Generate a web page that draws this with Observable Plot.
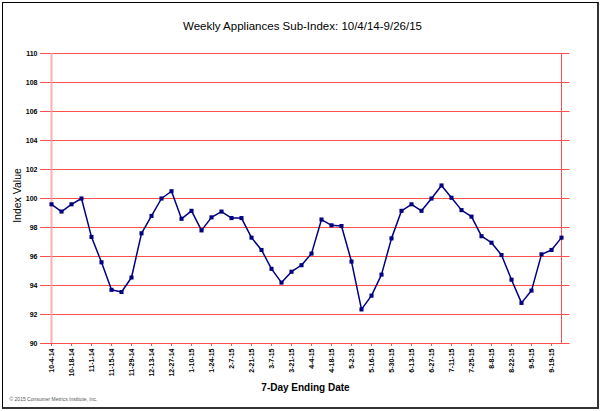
<!DOCTYPE html>
<html>
<head>
<meta charset="utf-8">
<script src="https://cdn.jsdelivr.net/npm/d3@7"></script>
<script src="https://cdn.jsdelivr.net/npm/@observablehq/plot@0.6"></script>
<style>
  html, body { margin: 0; padding: 0; background: #fff; }
  #wrap { position: relative; width: 602px; height: 411px; overflow: hidden; }
  #border { position: absolute; left: 2px; top: 2px; width: 594px; height: 404px;
            border-left: 1.5px solid #000; border-top: 1.5px solid #000;
            border-right: 2.5px solid #333; border-bottom: 2.5px solid #333; pointer-events: none; }
  svg { font-family: "Liberation Sans", Arial, sans-serif; }
</style>
</head>
<body>
<div id="wrap"><div id="border"></div></div>
<script>
const weeks = ["10-4-14","10-11-14","10-18-14","10-25-14","11-1-14","11-8-14","11-15-14","11-22-14","11-29-14","12-6-14","12-13-14","12-20-14","12-27-14","1-3-15","1-10-15","1-17-15","1-24-15","1-31-15","2-7-15","2-14-15","2-21-15","2-28-15","3-7-15","3-14-15","3-21-15","3-28-15","4-4-15","4-11-15","4-18-15","4-25-15","5-2-15","5-9-15","5-16-15","5-23-15","5-30-15","6-6-15","6-13-15","6-20-15","6-27-15","7-4-15","7-11-15","7-18-15","7-25-15","8-1-15","8-8-15","8-15-15","8-22-15","8-29-15","9-5-15","9-12-15","9-19-15","9-26-15"];
const values = [99.6,99.1,99.6,100.0,97.35,95.6,93.7,93.55,94.55,97.6,98.8,100.0,100.5,98.6,99.15,97.8,98.7,99.1,98.65,98.65,97.3,96.45,95.15,94.2,94.95,95.4,96.2,98.55,98.15,98.1,95.65,92.35,93.3,94.75,97.25,99.15,99.6,99.15,100.0,100.9,100.05,99.2,98.75,97.4,96.95,96.1,94.4,92.8,93.65,96.15,96.45,97.3];
const tickLabels = ["10-4-14","10-18-14","11-1-14","11-15-14","11-29-14","12-13-14","12-27-14","1-10-15","1-24-15","2-7-15","2-21-15","3-7-15","3-21-15","4-4-15","4-18-15","5-2-15","5-16-15","5-30-15","6-13-15","6-27-15","7-11-15","7-25-15","8-8-15","8-22-15","9-5-15","9-19-15"];
const yTicks = [90,92,94,96,98,100,102,104,106,108,110];
const title = "Weekly Appliances Sub-Index: 10/4/14-9/26/15";
const yLabel = "Index Value";
const xLabel = "7-Day Ending Date";
const credit = "© 2015 Consumer Metrics Institute, Inc.";

const data = weeks.map((w, i) => ({week: w, value: values[i]}));
const red = "#ff4f4f";
const navy = "#000080";

const chart = Plot.plot({
  width: 602,
  height: 411,
  marginLeft: 43,
  marginRight: 32.5,
  marginTop: 53,
  marginBottom: 68,
  style: {fontFamily: "'Liberation Sans', Arial, sans-serif", background: "transparent", overflow: "visible"},
  x: {type: "point", domain: weeks, padding: 0},
  y: {domain: [90, 110]},
  marks: [
    Plot.ruleY(yTicks, {stroke: red, strokeWidth: 1}),
    Plot.ruleX([weeks[weeks.length - 1]], {stroke: red, strokeWidth: 1}),
    Plot.ruleX([weeks[0]], {stroke: "#ffb0b0", strokeWidth: 2}),
    Plot.axisY(yTicks, {tickSize: 3, stroke: red, fill: "#000", fontSize: 7, fontWeight: "bold", tickPadding: 3, label: null}),
    Plot.axisX(tickLabels, {tickSize: 3, stroke: red, fill: "#000", fontSize: 7, fontWeight: "bold", tickRotate: -90, tickPadding: 2, label: null}),
    Plot.line(data, {x: "week", y: "value", stroke: navy, strokeWidth: 1.5}),
    Plot.dot(data, {x: "week", y: "value", symbol: "square", r: 2.3, fill: navy, stroke: "none"}),
    Plot.text([title], {frameAnchor: "top-left", dx: 259, dy: -32, textAnchor: "middle", fontSize: 11.5, fill: "#000"}),
    Plot.text([yLabel], {frameAnchor: "left", dx: -26, dy: -3, rotate: -90, textAnchor: "middle", fontSize: 10.5, fill: "#000"}),
    Plot.text([xLabel], {frameAnchor: "bottom-left", dx: 262, dy: 47, textAnchor: "middle", fontSize: 10, fontWeight: "bold", fill: "#000"}),
    Plot.text([credit], {frameAnchor: "bottom-left", dx: -34, dy: 57, fontSize: 5, fill: "#555", textAnchor: "start"})
  ]
});
document.getElementById("wrap").prepend(chart);
</script>
</body>
</html>
